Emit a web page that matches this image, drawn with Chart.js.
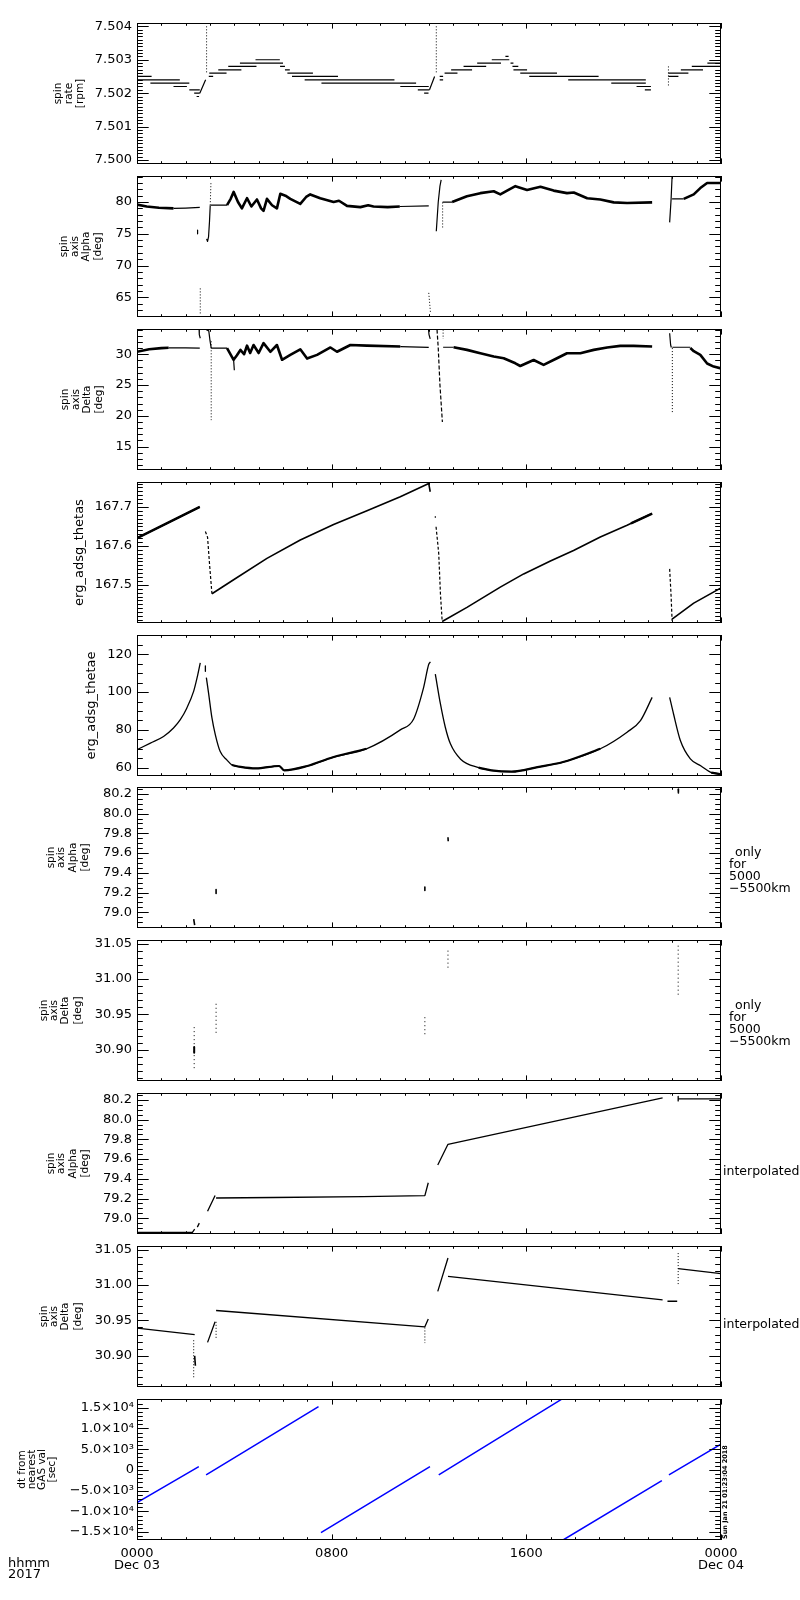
<!DOCTYPE html>
<html><head><meta charset="utf-8">
<script src="https://cdn.jsdelivr.net/npm/chart.js@4/dist/chart.umd.min.js"></script>
<style>
html,body{margin:0;padding:0;background:#fff;}
body{width:800px;height:1600px;position:relative;overflow:hidden;}
canvas{position:absolute;left:0;}
</style></head><body>
<script>
// ---------------- DATA (time in hours of Dec 03 2017, value) ----------------
const xTickHours = [0, 8, 16, 24];
const xTickText = [['0000','Dec 03'], ['0800'], ['1600'], ['0000','Dec 04']];
const dtTickVals = [-15000,-10000,-5000,0,5000,10000,15000];
const dtTickText = ['\u22121.5\u00d710\u2074','\u22121.0\u00d710\u2074','\u22125.0\u00d710\u00b3','0','5.0\u00d710\u00b3','1.0\u00d710\u2074','1.5\u00d710\u2074'];

// panel 1: spin rate steps [start h, end h, rpm]
const rateSteps = [
[0.00,0.60,7.5025],[0.00,1.76,7.5024],[0.55,2.15,7.5023],[1.50,2.05,7.5022],[2.15,2.58,7.5021],[2.35,2.58,7.5020],[2.45,2.55,7.5019],
[2.95,3.13,7.5025],[2.97,3.68,7.5026],[3.34,4.29,7.5027],[3.75,4.91,7.5028],[4.23,6.00,7.5029],[4.87,5.87,7.5030],[5.88,6.08,7.5028],[6.08,6.28,7.5027],[6.18,7.23,7.5026],[6.37,8.26,7.5025],[6.89,10.58,7.5024],[7.58,11.47,7.5023],
[10.82,11.99,7.5022],[11.54,12.02,7.5021],[11.80,11.98,7.5020],
[12.44,12.58,7.5025],[12.44,12.58,7.5024],[12.64,13.17,7.5026],[12.91,13.77,7.5027],[13.42,14.35,7.5028],[13.98,14.96,7.5029],[14.58,15.30,7.5030],[15.14,15.27,7.5031],[15.35,15.47,7.5029],[15.43,15.67,7.5028],[15.47,16.03,7.5027],[15.75,17.26,7.5026],[16.12,18.97,7.5025],[17.72,20.91,7.5024],[19.49,20.91,7.5023],[20.53,21.12,7.5022],[20.87,21.12,7.5021],
[21.84,22.66,7.5026],[21.84,22.25,7.5025],[22.35,23.26,7.5027],[22.80,24.00,7.5028],[23.44,24.00,7.5029]
];
const rateRamps = [[2.58,7.5020],[2.82,7.5024],[2.82,null],[12.02,7.5021],[12.23,7.5025]];
const rateSpikes = [[2.86,7.5040],[2.86,7.5026],[2.86,null],[12.30,7.5040],[12.30,7.5026],[12.30,null],[21.84,7.5028],[21.84,7.5022]];

// panel 2: spin axis alpha
const alphaThick = [
[0.00,79.6],[0.4,79.3],[0.9,79.1],[1.5,79.0],[1.5,null],
[3.70,79.5],[3.85,80.5],[3.97,81.6],[4.15,80.0],[4.31,79.0],[4.52,80.6],[4.70,79.3],[4.93,80.4],[5.10,79.0],[5.20,78.6],[5.34,80.5],[5.55,79.5],[5.75,79.0],[5.89,81.3],[6.10,81.0],[6.30,80.5],[6.71,79.7],[6.95,80.8],[7.12,81.2],[7.53,80.6],[8.08,80.0],[8.30,80.2],[8.63,79.4],[9.18,79.2],[9.50,79.5],[9.72,79.3],[10.3,79.2],[10.8,79.3],[10.8,null],
[12.95,80.0],[13.56,80.9],[14.11,81.4],[14.66,81.7],[14.93,81.2],[15.21,81.8],[15.55,82.5],[16.03,81.9],[16.58,82.4],[17.12,81.8],[17.67,81.4],[17.95,81.5],[18.5,80.6],[19.04,80.4],[19.59,79.95],[20.14,79.84],[21.17,79.95],[21.17,null],
[22.47,80.5],[22.88,81.2],[23.15,82.2],[23.43,83.0],[24.0,83.0]
];
const alphaThin = [
[1.5,79.0],[2.0,79.05],[2.58,79.15],[2.58,null],
[2.49,75.6],[2.49,75.0],[2.49,null],
[2.86,74.2],[2.90,73.8],[2.94,74.5],[2.98,77.0],[3.01,79.5],[3.01,null],
[3.04,79.5],[3.70,79.5],[3.70,null],
[10.8,79.3],[11.99,79.4],[11.99,null],
[12.30,75.4],[12.38,80.0],[12.45,82.5],[12.50,83.5],[12.50,null],
[12.56,80.0],[12.95,80.0],[12.95,null],
[21.89,76.8],[21.95,80.5],[21.99,84.0],[21.99,null],
[21.99,80.5],[22.47,80.5]
];
const alphaDotted = [
[2.60,66.4],[2.60,62.2],[2.60,null],
[3.01,79.5],[3.04,83.2],[3.04,null],
[11.99,65.7],[12.06,62.6],[12.06,null],
[12.56,76.0],[12.56,80.0]
];

// panel 3: spin axis delta
const deltaThick = [
[0,30.4],[0.5,30.8],[1.0,31.0],[1.3,31.05],[1.3,null],
[3.70,31.0],[3.97,29.1],[4.1,29.8],[4.25,30.7],[4.40,30.0],[4.52,31.4],[4.65,30.2],[4.79,31.5],[5.0,30.2],[5.2,31.8],[5.48,30.4],[5.75,31.5],[5.96,29.1],[6.3,29.9],[6.71,30.8],[6.99,29.3],[7.4,29.9],[7.95,31.1],[8.22,30.4],[8.77,31.5],[9.45,31.4],[10.82,31.25],[10.82,null],
[13.01,31.14],[13.56,30.71],[14.11,30.16],[14.66,29.62],[15.07,29.35],[15.55,28.53],[15.75,28.09],[16.3,29.07],[16.71,28.26],[17.26,29.35],[17.67,30.16],[18.22,30.16],[18.77,30.71],[19.32,31.09],[19.86,31.36],[20.41,31.36],[21.17,31.25],[21.17,null],
[22.74,31.0],[22.88,30.5],[23.15,29.9],[23.43,28.5],[23.7,28.0],[24,27.7]
];
const deltaThin = [
[1.3,31.05],[2.0,31.05],[2.58,30.98],[2.58,null],
[2.55,34.2],[2.56,33.2],[2.60,32.6],[2.60,null],
[2.85,34.0],[2.95,33.8],[3.0,32.2],[3.05,31.0],[3.05,null],
[3.05,31.0],[3.70,31.0],[3.70,null],
[3.97,29.1],[4.0,27.4],[4.0,null],
[10.82,31.25],[11.99,31.1],[11.99,null],
[11.97,34.5],[12.0,33.2],[12.05,32.5],[12.05,null],
[12.58,31.14],[13.01,31.14],[13.01,null],
[21.89,33.4],[21.93,31.5],[21.96,31.1],[21.96,null],
[22.0,31.14],[22.74,31.14]
];
const deltaDotted = [
[3.05,32.1],[3.05,19.3],[3.05,null],
[12.58,34.0],[12.58,32.5],[12.58,null],
[22.0,31.0],[22.0,20.4]
];
const deltaDashed = [[12.33,34.0],[12.38,31.0],[12.45,25.0],[12.55,19.0]];

// panel 4: erg_adsg_thetas
const thetasMain = [
[0,167.62],[1.3,167.66],[2.58,167.70],[2.58,null],
[3.08,167.477],[3.97,167.513],[5.34,167.568],[6.71,167.615],[8.08,167.655],[9.45,167.690],[10.82,167.726],[11.99,167.760],[12.05,167.739],[12.05,null],
[12.54,167.406],[13.56,167.442],[14.93,167.494],[15.89,167.528],[16.99,167.561],[17.94,167.588],[19.04,167.623],[20.14,167.653],[21.17,167.683],[21.17,null],
[21.99,167.412],[22.88,167.453],[24,167.492]
];
const thetasBand = [[0,167.62],[2.58,167.70],[2.58,null],[20.3,167.658],[21.17,167.683]];
const thetasDashed = [
[2.81,167.637],[2.90,167.622],[2.98,167.554],[3.08,167.477],[3.08,null],
[12.26,167.676],[12.26,167.672],[12.26,null],
[12.29,167.649],[12.36,167.606],[12.40,167.58],[12.47,167.477],[12.54,167.408],[12.54,null],
[21.89,167.541],[21.95,167.47],[21.99,167.408]
];

// panel 5: erg_adsg_thetae
const thetaeMain = [
[0,69.5],[0.55,73.0],[1.09,76.5],[1.5,81.0],[1.78,85.4],[2.05,91.6],[2.33,100.5],[2.47,107.6],[2.6,115.5],[2.6,null],
[2.85,107.6],[2.94,99.6],[3.08,86.3],[3.22,77.4],[3.42,68.5],[3.70,64.0],[3.90,61.4],[4.26,60.4],[4.89,59.6],[5.84,60.9],[6.05,58.6],[7.0,60.9],[8.05,65.5],[9.43,70.0],[10.82,80],[11.37,85.8],[11.78,102.5],[11.99,114.7],[12.06,116],[12.06,null],
[12.26,109.5],[12.47,93.7],[12.67,81.4],[12.88,72.6],[13.3,64.5],[14.04,60],[14.56,58.6],[15.4,57.9],[16.46,60.3],[17.51,63],[19.04,70.0],[20.14,78.8],[20.69,84.9],[21.17,97.2],[21.17,null],
[21.89,97.2],[22.05,88.4],[22.33,74.4],[22.74,64.7],[23.18,60.9],[23.6,57.4],[24,56.5]
];
const thetaeDash = [[2.81,113.8],[2.81,111.0]];
const thetaeBand = [
[3.90,61.4],[4.26,60.4],[4.89,59.6],[5.84,60.9],[6.05,58.6],[7.0,60.9],[8.05,65.5],[9.43,70.0],[9.43,null],
[14.04,60],[14.56,58.6],[15.4,57.9],[16.46,60.3],[17.51,63],[19.04,70.0],[19.04,null],
[23.6,57.4],[24,56.5]
];

// panel 6: alpha only for 5000-5500 km
const onlyAlpha = [[2.33,78.93],[2.37,78.87],[2.37,null],[3.25,79.23],[3.25,79.19],[3.25,null],[11.83,79.255],[11.83,79.22],[11.83,null],[12.78,79.76],[12.79,79.72],[12.79,null],[22.24,80.25],[22.25,80.21]];
// panel 7: delta only for 5000-5500 km
const onlyDelta = [[2.35,30.932],[2.35,30.873],[2.35,null],[3.25,30.965],[3.25,30.922],[3.25,null],[11.83,30.946],[11.83,30.918],[11.83,null],[12.78,31.04],[12.78,31.012],[12.78,null],[22.24,31.047],[22.24,30.977]];
const onlyDeltaMark = [[2.35,30.904],[2.35,30.896]];
// panel 8: interpolated alpha
const interpAlpha = [
[0,78.855],[2.27,78.855],[2.37,78.89],[2.37,null],
[2.48,78.91],[2.56,78.95],[2.56,null],
[2.90,79.07],[3.21,79.23],[3.21,null],
[3.25,79.205],[5.6,79.21],[9.3,79.22],[11.83,79.23],[11.97,79.36],[11.97,null],
[12.36,79.54],[12.78,79.75],[21.6,80.22],[21.6,null],
[21.9,80.265],[21.95,80.265],[21.95,null],
[22.24,80.235],[22.24,80.19],[22.24,null],
[22.24,80.21],[24,80.21]
];
// panel 9: interpolated delta
const interpDelta = [
[0,30.939],[2.37,30.930],[2.37,null],
[2.90,30.919],[3.21,30.948],[3.21,null],
[3.25,30.964],[11.83,30.941],[11.97,30.952],[11.97,null],
[12.36,30.991],[12.78,31.038],[12.78,null],
[12.78,31.012],[21.6,30.979],[21.6,null],
[21.8,30.977],[22.2,30.977],[22.2,null],
[22.24,31.023],[24,31.016]
];
const interpDeltaDots = [[2.33,30.922],[2.33,30.869],[2.33,null],[3.25,30.948],[3.25,30.925],[3.25,null],[11.83,30.940],[11.83,30.918],[11.83,null],[22.24,31.045],[22.24,31.0]];
const interpDeltaMark = [[2.37,30.900],[2.40,30.886]];
// panel 10: dt from nearest GAS value [sec]
const dtLines = [[0,-7900],[2.54,800],[2.54,null],[2.84,-1200],[7.46,15270],[7.46,null],[7.56,-15120],[12.04,790],[12.04,null],[12.40,-1200],[17.44,17000],[17.44,null],[17.51,-16900],[21.57,-2570],[21.57,null],[21.86,-1200],[24,6240]];

// ---------------- RENDERING ----------------
Chart.defaults.font.family = '"DejaVu Sans", sans-serif';
Chart.defaults.color = '#000';
const K = '#000';
function ds(pairs, color, width, dash, smooth) {
  const o = { data: pairs.map(p => ({x: p[0], y: p[1]})), borderColor: color, borderWidth: width,
           borderDash: dash || [], pointRadius: 0, fill: false, tension: 0, spanGaps: false };
  if (smooth) o.cubicInterpolationMode = 'monotone';
  return o;
}
function stepPairs(steps) {
  const out = [];
  steps.forEach(s => { out.push([s[0], s[2]], [s[1], s[2]], [s[1], null]); });
  return out;
}
const fmt = d => v => Number(v).toFixed(d);
function dtFmt(v) {
  const n = Number(v);
  for (let i = 0; i < dtTickVals.length; i++) if (Math.abs(dtTickVals[i] - n) < 1) return dtTickText[i];
  return '';
}

const panels = [
  { min: 7.49988, max: 7.50410, major: 0.001, minor: 0.0001, fmt: fmt(3),
    title: { lines: ['spin','rate','[rpm]'], xs: [58,69,80], size: 10.5 },
    sets: [ds(stepPairs(rateSteps), K, 1.2), ds(rateRamps, K, 1.2), ds(rateSpikes, K, 1, [1,2])] },
  { min: 61.9, max: 84.1, major: 5, minor: 1, fmt: fmt(0),
    title: { lines: ['spin','axis','Alpha','[deg]'], xs: [64,75,86,98], size: 10.5 },
    sets: [ds(alphaThick, K, 2.6), ds(alphaThin, K, 1.2), ds(alphaDotted, K, 1, [1,2])] },
  { min: 11.2, max: 34.1, major: 5, minor: 1, fmt: fmt(0),
    title: { lines: ['spin','axis','Delta','[deg]'], xs: [65,76,87,99], size: 10.5 },
    sets: [ds(deltaThick, K, 2.6), ds(deltaThin, K, 1.2), ds(deltaDotted, K, 1, [1,2]), ds(deltaDashed, K, 1.2, [4,2])] },
  { min: 167.402, max: 167.764, major: 0.1, minor: 0.01, fmt: fmt(1),
    title: { lines: ['erg_adsg_thetas'], xs: [80], size: 13 },
    sets: [ds(thetasBand, K, 2.4), ds(thetasMain, K, 1.6), ds(thetasDashed, K, 1.2, [3,2])] },
  { min: 55.6, max: 130.2, major: 20, minor: 5, fmt: fmt(0),
    title: { lines: ['erg_adsg_thetae'], xs: [92], size: 13 },
    sets: [ds(thetaeBand, K, 2.2, null, true), ds(thetaeMain, K, 1.3, null, true), ds(thetaeDash, K, 1.3)] },
  { min: 78.84, max: 80.27, major: 0.2, minor: 0.05, fmt: fmt(1),
    title: { lines: ['spin','axis','Alpha','[deg]'], xs: [51,61,73,85], size: 10.5 },
    note: [['only',735,-4.5],['for',729,7.5],['5000',729,19.5],['\u22125500km',729,31.5]],
    sets: [ds(onlyAlpha, K, 1.6)] },
  { min: 30.856, max: 31.055, major: 0.05, minor: 0.01, fmt: fmt(2),
    title: { lines: ['spin','axis','Delta','[deg]'], xs: [44,54,65,78], size: 10.5 },
    note: [['only',735,-4.5],['for',729,7.5],['5000',729,19.5],['\u22125500km',729,31.5]],
    sets: [ds(onlyDelta, K, 1, [1,3]), ds(onlyDeltaMark, K, 2)] },
  { min: 78.84, max: 80.27, major: 0.2, minor: 0.05, fmt: fmt(1),
    title: { lines: ['spin','axis','Alpha','[deg]'], xs: [51,61,73,85], size: 10.5 },
    note: [['interpolated',723,8]],
    sets: [ds(interpAlpha, K, 1.3)] },
  { min: 30.856, max: 31.055, major: 0.05, minor: 0.01, fmt: fmt(2),
    title: { lines: ['spin','axis','Delta','[deg]'], xs: [44,54,65,78], size: 10.5 },
    note: [['interpolated',723,8.5]],
    sets: [ds(interpDelta, K, 1.3), ds(interpDeltaDots, K, 1, [1,2]), ds(interpDeltaMark, K, 1.6)] },
  { min: -16900, max: 17100, major: 5000, minor: 1000, fmt: dtFmt, tickVals: dtTickVals,
    title: { lines: ['dt from','nearest','GAS val','[sec]'], xs: [22,32,42,52], size: 10.5 },
    last: true,
    sets: [ds(dtLines, '#0000ff', 1.5)] }
];

const idlPlugin = {
  id: 'idl',
  afterDraw(chart) {
    const p = panels[+chart.canvas.dataset.idx];
    const ctx = chart.ctx, a = chart.chartArea, x = chart.scales.x, y = chart.scales.y;
    ctx.save();
    ctx.strokeStyle = '#000'; ctx.lineWidth = 1; ctx.setLineDash([]);
    ctx.strokeRect(a.left + 0.5, a.top + 0.5, a.right - a.left - 1, a.bottom - a.top - 1);
    ctx.beginPath();
    const k0 = Math.ceil(p.min / p.minor - 1e-6), k1 = Math.floor(p.max / p.minor + 1e-6);
    for (let k = k0; k <= k1; k++) {
      const v = k * p.minor;
      const r = v / p.major;
      const major = Math.abs(r - Math.round(r)) < 1e-4;
      const len = major ? 11.7 : 5.8;
      const py = Math.round(y.getPixelForValue(v)) + 0.5;
      ctx.moveTo(a.left, py); ctx.lineTo(a.left + len, py);
      ctx.moveTo(a.right, py); ctx.lineTo(a.right - len, py);
    }
    for (let h = 0; h <= 24; h++) {
      const len = (h % 8 === 0) ? 5.6 : 2.8;
      const px = Math.round(x.getPixelForValue(h)) + 0.5;
      ctx.moveTo(px, a.bottom); ctx.lineTo(px, a.bottom - len);
      ctx.moveTo(px, a.top); ctx.lineTo(px, a.top + len);
    }
    ctx.stroke();
    const cy = (a.top + a.bottom) / 2;
    ctx.fillStyle = '#000';
    ctx.textBaseline = 'middle';
    ctx.textAlign = 'center';
    ctx.font = p.title.size + 'px "DejaVu Sans"';
    p.title.lines.forEach((t, i) => {
      ctx.save(); ctx.translate(p.title.xs[i], cy); ctx.rotate(-Math.PI / 2); ctx.fillText(t, 0, 0); ctx.restore();
    });
    if (p.note) {
      ctx.font = '12.5px "DejaVu Sans"'; ctx.textAlign = 'left';
      p.note.forEach(n => ctx.fillText(n[0], n[1], cy + n[2]));
    }
    if (p.last) {
      ctx.font = '13px "DejaVu Sans"'; ctx.textAlign = 'left';
      ctx.fillText('hhmm', 8, a.bottom + 23.5);
      ctx.fillText('2017', 8, a.bottom + 35);
      ctx.save(); ctx.translate(725, a.bottom - 1); ctx.rotate(-Math.PI / 2);
      ctx.font = 'bold 6.5px "DejaVu Sans"'; ctx.fillText('Sun Jan 21 01:23:04 2018', 0, 0); ctx.restore();
    }
    ctx.restore();
  }
};

panels.forEach((p, i) => {
  const top = Math.round(23.3 + 152.8 * i);
  const padT = 14, padB = p.last ? 50 : 14;
  const h = padT + 141 + padB;
  const c = document.createElement('canvas');
  c.width = 800; c.height = h;
  c.style.width = '800px'; c.style.height = h + 'px';
  c.style.top = (top - padT) + 'px';
  c.dataset.idx = i;
  document.body.appendChild(c);
  new Chart(c, {
    type: 'line',
    data: { datasets: p.sets },
    plugins: [idlPlugin],
    options: {
      responsive: false, animation: false, devicePixelRatio: 1,
      layout: { padding: { left: 0, right: 79, top: padT, bottom: p.last ? 5 : padB } },
      plugins: { legend: { display: false }, tooltip: { enabled: false } },
      elements: { line: { borderJoinStyle: 'round' } },
      scales: {
        x: { type: 'linear', min: 0, max: 24,
             grid: { display: false, drawTicks: false }, border: { display: false },
             ticks: { display: !!p.last, stepSize: 8, autoSkip: false, maxRotation: 0, padding: 8,
                      font: { size: 13, lineHeight: 0.92 }, color: '#000',
                      callback: v => { const j = xTickHours.indexOf(Math.round(v)); return j >= 0 ? xTickText[j] : ''; } },
             afterBuildTicks: s => { s.ticks = xTickHours.map(v => ({ value: v })); },
             afterFit: s => { s.height = p.last ? 45 : 0; } },
        y: { type: 'linear', min: p.min, max: p.max,
             grid: { display: false, drawTicks: false }, border: { display: false },
             ticks: { stepSize: p.major, includeBounds: false, autoSkip: false, padding: p.last ? 3 : 5,
                      font: { size: 13 }, color: '#000', callback: p.fmt },
             afterBuildTicks: s => { if (p.tickVals) s.ticks = p.tickVals.map(v => ({ value: v })); },
             afterFit: s => { s.width = 137; } }
      }
    }
  });
});
</script></body></html>
